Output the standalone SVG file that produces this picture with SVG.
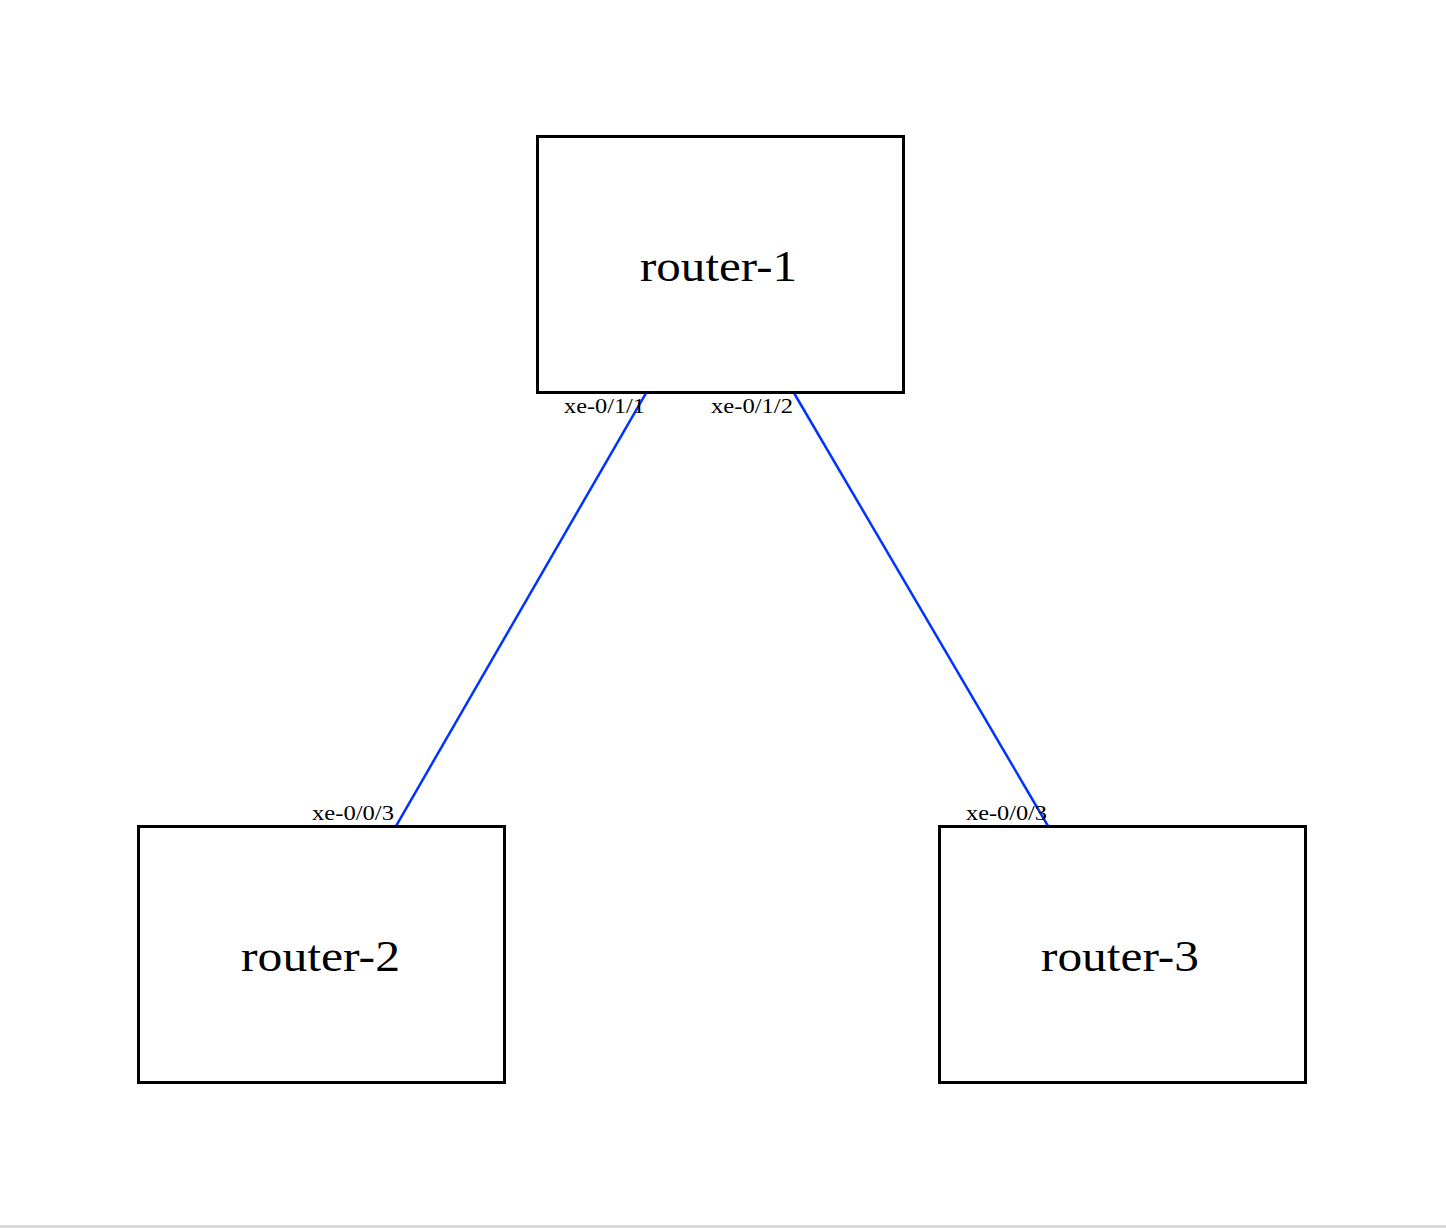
<svg xmlns="http://www.w3.org/2000/svg" width="1446" height="1228" viewBox="0 0 1446 1228">
<style>
.node rect{fill:#ffffff;stroke:#000000;stroke-width:3}
.node text{font-family:"Liberation Serif","Times New Roman",serif;font-size:44px;fill:#000000;text-anchor:middle}
.edges line{stroke:#0033ff;stroke-width:2.5}
.port{font-family:"Liberation Serif","Times New Roman",serif;font-size:21px;fill:#000000}
</style>
<rect x="0" y="0" width="1446" height="1228" fill="#ffffff"/>
<rect x="0" y="1225" width="1446" height="3" fill="#d9d9d9"/>
<g id="edges" class="edges">
<line x1="646" y1="393" x2="396" y2="826"/>
<line x1="794" y1="393" x2="1048" y2="826"/>
</g>
<g id="router-1" class="node">
<rect x="537.5" y="136.5" width="366" height="256"/>
<text x="718.5" y="281" textLength="157" lengthAdjust="spacingAndGlyphs">router-1</text>
</g>
<g id="router-2" class="node">
<rect x="138.5" y="826.5" width="366" height="256"/>
<text x="320.5" y="971" textLength="159" lengthAdjust="spacingAndGlyphs">router-2</text>
</g>
<g id="router-3" class="node">
<rect x="939.5" y="826.5" width="366" height="256"/>
<text x="1120" y="971" textLength="158" lengthAdjust="spacingAndGlyphs">router-3</text>
</g>
<g id="port-labels">
<text class="port" x="564" y="413" textLength="81" lengthAdjust="spacingAndGlyphs">xe-0/1/1</text>
<text class="port" x="711" y="413" textLength="82" lengthAdjust="spacingAndGlyphs">xe-0/1/2</text>
<text class="port" x="312" y="820" textLength="82" lengthAdjust="spacingAndGlyphs">xe-0/0/3</text>
<text class="port" x="966" y="820" textLength="81" lengthAdjust="spacingAndGlyphs">xe-0/0/3</text>
</g>
</svg>
